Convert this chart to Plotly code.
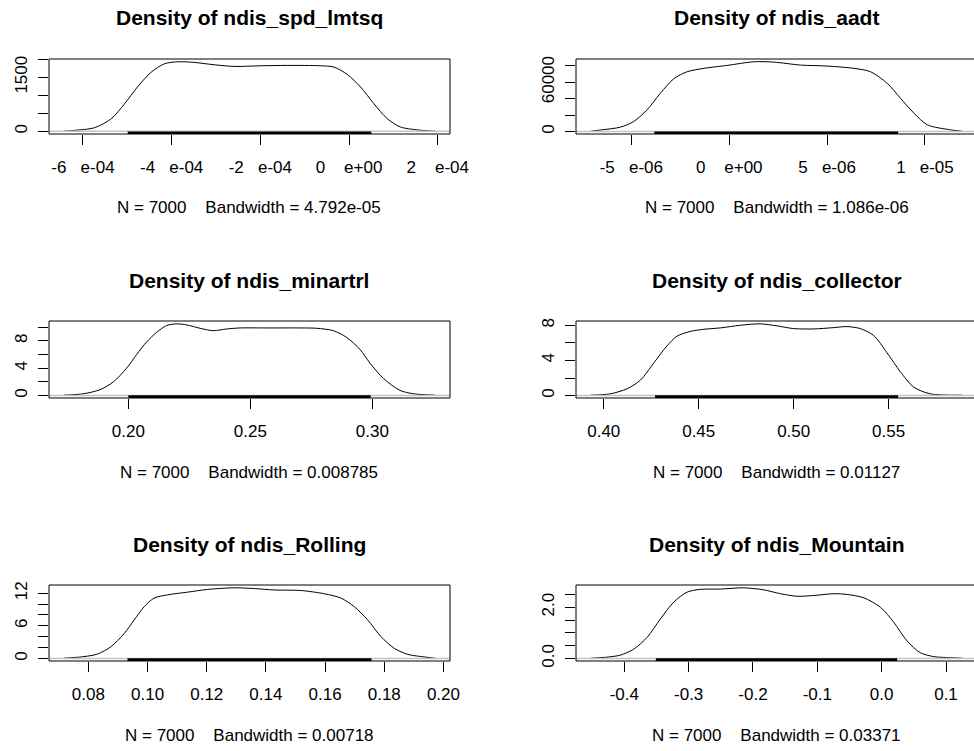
import plotly.graph_objects as go

FONT = "Liberation Sans, Arial, Helvetica, sans-serif"
W, H = 974, 751
NB = "\u00a0"

titles = ["Density of ndis_spd_lmtsq", "Density of ndis_aadt",
          "Density of ndis_minartrl", "Density of ndis_collector",
          "Density of ndis_Rolling", "Density of ndis_Mountain"]
subtitles = ["N = 7000" + NB * 4 + "Bandwidth = 4.792e-05",
             "N = 7000" + NB * 4 + "Bandwidth = 1.086e-06",
             "N = 7000" + NB * 4 + "Bandwidth = 0.008785",
             "N = 7000" + NB * 4 + "Bandwidth = 0.01127",
             "N = 7000" + NB * 4 + "Bandwidth = 0.00718",
             "N = 7000" + NB * 4 + "Bandwidth = 0.03371"]

# ---- panel 1: ndis_spd_lmtsq
p1_x = [-6.43e-4, -6.19e-4, -5.74e-4, -5.36e-4, -5.06e-4, -4.76e-4, -4.46e-4, -4.16e-4,
        -3.86e-4, -3.49e-4, -3.04e-4, -2.59e-4, -1.99e-4, -1.39e-4, -0.64e-4, -0.34e-4,
        -0.04e-4, 0.26e-4, 0.56e-4, 0.86e-4, 1.16e-4, 1.65e-4, 1.94e-4]
p1_y = [4, 28, 101, 351, 766, 1246, 1643, 1874, 1929, 1911, 1846, 1800, 1818, 1828,
        1818, 1781, 1578, 1228, 766, 351, 120, 28, 4]
p1_rug = [-4.99e-4, 0.50e-4]
p1_xticks = [-6e-4, -4e-4, -2e-4, 0, 2e-4]
p1_xlabels = ["-6" + NB * 3 + "e-04", "-4" + NB * 3 + "e-04", "-2" + NB * 3 + "e-04",
              "0" + NB * 4 + "e+00", "2" + NB * 4 + "e-04"]
p1_yticks = [0, 500, 1000, 1500, 2000]
p1_ylabels = ["0", "", "", "1500", ""]

# ---- panel 2: ndis_aadt
p2_x = [-7.07e-6, -6.5e-6, -5.56e-6, -4.88e-6, -4.2e-6, -3.52e-6, -2.83e-6, -2.15e-6,
        -1.29e-6, -0.1e-6, 1.26e-6, 2.28e-6, 3.64e-6, 5.0e-6, 6.37e-6, 7.22e-6, 8.07e-6,
        8.75e-6, 9.44e-6, 1.012e-5, 1.131e-5, 1.19e-5]
p2_y = [300, 2000, 5250, 12100, 26300, 46500, 64200, 72700, 76800, 80400, 84800, 84400,
        80800, 79600, 76800, 72700, 58600, 40400, 22200, 8100, 2000, 300]
p2_rug = [-3.83e-6, 8.63e-6]
p2_xticks = [-5e-6, 0, 5e-6, 1e-5]
p2_xlabels = ["-5" + NB * 3 + "e-06", "0" + NB * 4 + "e+00", "5" + NB * 3 + "e-06",
              "1" + NB * 3 + "e-05"]
p2_yticks = [0, 20000, 40000, 60000, 80000]
p2_ylabels = ["0", "", "", "60000", ""]

# ---- panel 3: ndis_minartrl
p3_x = [0.1736, 0.1816, 0.1884, 0.1939, 0.1993, 0.2034, 0.2075, 0.2116, 0.2157, 0.2198,
        0.2239, 0.2294, 0.2348, 0.2403, 0.2458, 0.2567, 0.2703, 0.2772, 0.2840, 0.2895,
        0.2949, 0.2990, 0.3045, 0.3113, 0.3168, 0.3257]
p3_y = [0.05, 0.25, 0.85, 2.0, 4.0, 6.0, 7.85, 9.25, 10.25, 10.5, 10.35, 9.85, 9.5, 9.75,
        9.9, 9.9, 9.9, 9.85, 9.5, 8.5, 6.75, 4.75, 2.5, 0.75, 0.25, 0.05]
p3_rug = [0.2000, 0.2993]
p3_xticks = [0.20, 0.25, 0.30]
p3_xlabels = ["0.20", "0.25", "0.30"]
p3_yticks = [0, 2, 4, 6, 8, 10]
p3_ylabels = ["0", "", "4", "", "8", ""]

# ---- panel 4: ndis_collector
p4_x = [0.3932, 0.4035, 0.4123, 0.4193, 0.4263, 0.4333, 0.4386, 0.4456, 0.4526, 0.4614,
        0.4719, 0.4824, 0.4912, 0.5000, 0.5105, 0.5210, 0.5280, 0.5351, 0.5421, 0.5491,
        0.5561, 0.5631, 0.5719, 0.5887]
p4_y = [0.05, 0.2, 0.78, 1.76, 3.7, 5.66, 6.76, 7.3, 7.54, 7.7, 8.0, 8.16, 7.93, 7.62,
        7.58, 7.73, 7.85, 7.62, 6.84, 4.88, 2.73, 0.98, 0.2, 0.05]
p4_rug = [0.4270, 0.5550]
p4_xticks = [0.40, 0.45, 0.50, 0.55]
p4_xlabels = ["0.40", "0.45", "0.50", "0.55"]
p4_yticks = [0, 2, 4, 6, 8]
p4_ylabels = ["0", "", "4", "", "8"]

# ---- panel 5: ndis_Rolling
p5_x = [0.0717, 0.0780, 0.0830, 0.0876, 0.0921, 0.0955, 0.0988, 0.1022, 0.1067, 0.1135,
        0.1203, 0.1293, 0.1361, 0.1428, 0.1519, 0.1598, 0.1654, 0.1699, 0.1744, 0.1789,
        0.1834, 0.1880, 0.1913, 0.1972]
p5_y = [0.05, 0.31, 0.8, 2.15, 4.6, 7.1, 9.5, 11.1, 11.7, 12.2, 12.7, 13.0, 12.86, 12.6,
        12.5, 11.9, 11.1, 9.5, 7.1, 4.0, 1.85, 0.74, 0.43, 0.05]
p5_rug = [0.0932, 0.1757]
p5_xticks = [0.08, 0.10, 0.12, 0.14, 0.16, 0.18, 0.20]
p5_xlabels = ["0.08", "0.10", "0.12", "0.14", "0.16", "0.18", "0.20"]
p5_yticks = [0, 2, 4, 6, 8, 10, 12]
p5_ylabels = ["0", "", "", "6", "", "", "12"]

# ---- panel 6: ndis_Mountain
p6_x = [-0.452, -0.427, -0.406, -0.3855, -0.3647, -0.344, -0.3233, -0.3025, -0.2818,
        -0.2507, -0.2144, -0.1833, -0.1574, -0.1315, -0.1055, -0.0744, -0.0537, -0.0278,
        -0.0019, 0.0189, 0.0396, 0.0603, 0.0811, 0.0966, 0.1251]
p6_y = [0.01, 0.05, 0.13, 0.36, 0.82, 1.54, 2.2, 2.59, 2.70, 2.71, 2.76, 2.68, 2.53, 2.43,
        2.46, 2.53, 2.50, 2.37, 2.0, 1.41, 0.68, 0.22, 0.07, 0.04, 0.01]
p6_rug = [-0.3510, 0.0240]
p6_xticks = [-0.4, -0.3, -0.2, -0.1, 0.0, 0.1]
p6_xlabels = ["-0.4", "-0.3", "-0.2", "-0.1", "0.0", "0.1"]
p6_yticks = [0, 0.5, 1.0, 1.5, 2.0, 2.5]
p6_ylabels = ["0.0", "", "", "", "2.0", ""]

panels = [
    (p1_x, p1_y, p1_rug, p1_xticks, p1_xlabels, p1_yticks, p1_ylabels),
    (p2_x, p2_y, p2_rug, p2_xticks, p2_xlabels, p2_yticks, p2_ylabels),
    (p3_x, p3_y, p3_rug, p3_xticks, p3_xlabels, p3_yticks, p3_ylabels),
    (p4_x, p4_y, p4_rug, p4_xticks, p4_xlabels, p4_yticks, p4_ylabels),
    (p5_x, p5_y, p5_rug, p5_xticks, p5_xlabels, p5_yticks, p5_ylabels),
    (p6_x, p6_y, p6_rug, p6_xticks, p6_xlabels, p6_yticks, p6_ylabels),
]

# pixel geometry of plot boxes (the right column runs slightly past the page edge)
cols = [(49, 450), (576, 977)]
rows = [(59, 134), (321, 398), (585, 661)]

fig = go.Figure()
layout = dict(autosize=True, margin=dict(l=0, r=0, t=0, b=0),
              paper_bgcolor="white", plot_bgcolor="white", showlegend=False,
              font=dict(family=FONT, color="black"))
shapes, annotations = [], []

for i, (xs, ys, rug, xt, xl, yt, yl) in enumerate(panels):
    r, c = divmod(i, 2)
    x0p, x1p = cols[c]
    t, b = rows[r]
    vis_x1 = min(x1p, W)
    n = "" if i == 0 else str(i + 1)

    lo, hi = min(xs), max(xs)
    w = hi - lo
    xr = [lo - 0.04 * w, hi + 0.04 * w]
    xr[1] = xr[0] + (xr[1] - xr[0]) * (vis_x1 - x0p) / (x1p - x0p)
    ylo, yhi = min(ys), max(ys)
    hh = yhi - ylo
    yr = [ylo - 0.04 * hh, yhi + 0.04 * hh]

    fig.add_trace(go.Scatter(x=xs, y=ys, mode="lines", xaxis="x" + n, yaxis="y" + n,
                             line=dict(color="black", width=1, shape="spline", smoothing=0.8),
                             hoverinfo="skip"))

    layout["xaxis" + n] = dict(domain=[x0p / W, vis_x1 / W], range=xr, anchor="y" + n,
                               tickvals=xt, ticktext=xl, ticks="outside", ticklen=10,
                               tickwidth=1, tickcolor="black", showline=False,
                               showgrid=False, zeroline=False, ticklabelstandoff=8,
                               automargin=False,
                               tickfont=dict(size=17, family=FONT, color="black"))
    layout["yaxis" + n] = dict(domain=[1 - b / H, 1 - t / H], range=yr, anchor="x" + n,
                               tickvals=yt, ticktext=yl, ticks="outside", ticklen=10,
                               tickwidth=1, tickcolor="black", showline=False,
                               showgrid=False, zeroline=False, tickangle=-90,
                               ticklabelstandoff=4, automargin=False,
                               tickfont=dict(size=17, family=FONT, color="black"))

    # gray zero line
    shapes.append(dict(type="line", xref="paper", yref="y" + n, x0=x0p / W, x1=x1p / W,
                       y0=0, y1=0, line=dict(color="#c4c4c4", width=1.5), layer="above"))
    # rug (dense ticks -> solid bar)
    shapes.append(dict(type="rect", xref="x" + n, yref="y" + n + " domain",
                       x0=rug[0], x1=rug[1], y0=0, y1=0.035,
                       fillcolor="black", line=dict(width=0), layer="above"))
    # box
    shapes.append(dict(type="rect", xref="paper", yref="paper", x0=x0p / W, x1=x1p / W,
                       y0=1 - b / H, y1=1 - t / H, line=dict(color="black", width=1),
                       fillcolor="rgba(0,0,0,0)", layer="above"))

    cx = (x0p + x1p) / 2 / W
    annotations.append(dict(text="<b>" + titles[i] + "</b>", xref="paper", yref="paper",
                            x=cx, y=1 - (t - 41) / H, xanchor="center", yanchor="middle",
                            showarrow=False, font=dict(size=21, family=FONT, color="black")))
    annotations.append(dict(text=subtitles[i], xref="paper", yref="paper",
                            x=cx, y=1 - (b + 74) / H, xanchor="center", yanchor="middle",
                            showarrow=False, font=dict(size=17, family=FONT, color="black")))

layout["shapes"] = shapes
layout["annotations"] = annotations
fig.update_layout(**layout)
fig.write_html("out.html",
               config={"displayModeBar": False},
               default_width="100vw", default_height="100vh",
               post_script="document.body.style.margin='0px';"
                           "document.body.style.overflow='hidden';")
